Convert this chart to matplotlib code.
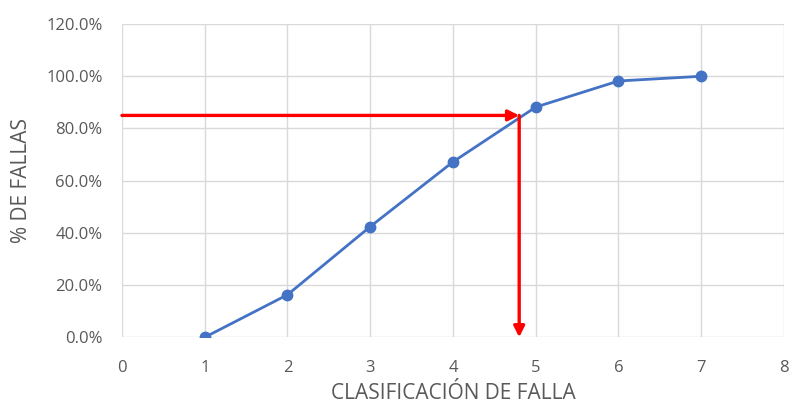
import matplotlib.pyplot as plt
from matplotlib.ticker import FuncFormatter

clases = [1, 2, 3, 4, 5, 6, 7]
pct_fallas = [0.0, 16.3, 42.4, 67.2, 88.2, 98.2, 100.0]
corte_x = 4.8
corte_y = 85.0

plt.rcParams['font.family'] = ['Open Sans', 'DejaVu Sans']

fig = plt.figure(figsize=(7.9, 4.08), dpi=100, facecolor='w')
ax = fig.add_axes([0.1544, 0.1733, 0.838, 0.7677])

ax.plot(clases, pct_fallas, color='#4472C4', linewidth=2, marker='o',
        markersize=7.5, zorder=3)

# flechas rojas
ap = dict(arrowstyle='-|>', color='#FF0000', lw=2.4, mutation_scale=16,
          shrinkA=0, shrinkB=0)
ax.annotate('', xy=(corte_x, corte_y), xytext=(0, corte_y), arrowprops=ap, zorder=4)
ax.annotate('', xy=(corte_x, 0), xytext=(corte_x, corte_y), arrowprops=ap, zorder=4)

ax.set_xlim(0, 8)
ax.set_ylim(0, 120)
ax.set_xticks(range(0, 9))
ax.set_yticks(range(0, 121, 20))
ax.yaxis.set_major_formatter(FuncFormatter(lambda v, p: '{:.1f}%'.format(v)))

for s in ax.spines.values():
    s.set_visible(False)
ax.grid(color='#D9D9D9', linewidth=1)
ax.set_axisbelow(True)
ax.tick_params(length=0, labelsize=12, labelcolor='#595959')
ax.tick_params(axis='x', pad=16)
ax.tick_params(axis='y', pad=14)

ax.set_xlabel('CLASIFICACIÓN DE FALLA', fontsize=15, color='#595959')
ax.set_ylabel('% DE FALLAS', fontsize=15, color='#595959')
ax.xaxis.set_label_coords(0.5, -0.146)
ax.yaxis.set_label_coords(-0.136, 0.5)

fig.savefig('out.png', dpi=100)
